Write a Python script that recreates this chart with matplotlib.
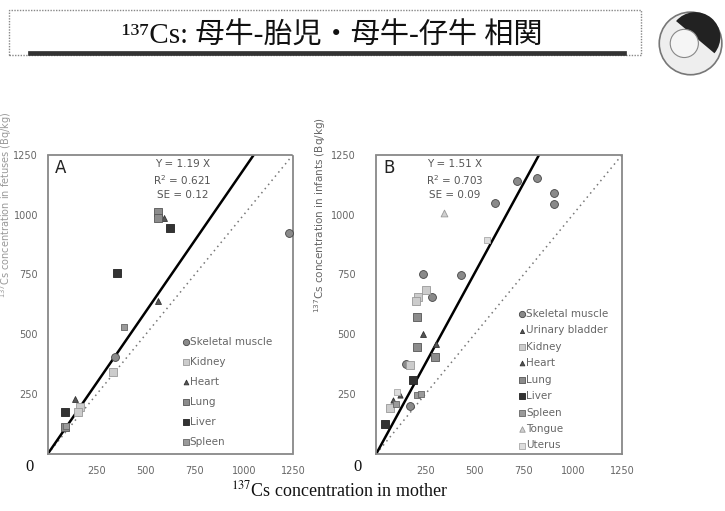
import matplotlib.pyplot as plt
from matplotlib.patches import Rectangle, Circle, Wedge

# Panel A: mother vs fetus
a_organs = ['Skeletal muscle', 'Kidney', 'Heart', 'Lung', 'Liver', 'Spleen']
a_x = {
    'Skeletal muscle': [1230, 345],
    'Kidney': [330, 165, 155],
    'Heart': [560, 140, 590],
    'Lung': [560, 560, 85],
    'Liver': [625, 355, 85],
    'Spleen': [390, 95],
}
a_y = {
    'Skeletal muscle': [925, 405],
    'Kidney': [340, 195, 175],
    'Heart': [640, 230, 985],
    'Lung': [1010, 985, 110],
    'Liver': [945, 755, 175],
    'Spleen': [530, 115],
}
a_slope = 1.19
a_stats = ['Y = 1.19 X', 'R$^2$ = 0.621', 'SE = 0.12']

# Panel B: mother vs infant
b_organs = ['Skeletal muscle', 'Urinary bladder', 'Kidney', 'Heart', 'Lung',
            'Liver', 'Spleen', 'Tongue', 'Uterus']
b_x = {
    'Skeletal muscle': [240, 430, 285, 605, 715, 815, 905, 905, 170, 150],
    'Urinary bladder': [120, 85],
    'Kidney': [255, 210, 200, 170, 70],
    'Heart': [240, 305],
    'Lung': [205, 205, 300],
    'Liver': [185, 45],
    'Spleen': [205, 225, 100],
    'Tongue': [345],
    'Uterus': [565, 105],
}
b_y = {
    'Skeletal muscle': [750, 748, 655, 1050, 1140, 1155, 1090, 1045, 200, 375],
    'Urinary bladder': [245, 225],
    'Kidney': [685, 655, 640, 370, 190],
    'Heart': [500, 460],
    'Lung': [570, 445, 405],
    'Liver': [310, 125],
    'Spleen': [245, 250, 210],
    'Tongue': [1005],
    'Uterus': [895, 260],
}
b_slope = 1.51
b_stats = ['Y = 1.51 X', 'R$^2$ = 0.703', 'SE = 0.09']

ticks = [250, 500, 750, 1000, 1250]

styles = {
    'Skeletal muscle': dict(marker='o', color='#8a8a8a', edge='#444444', s=32),
    'Urinary bladder': dict(marker='^', color='#555555', edge='#333333', s=14),
    'Kidney': dict(marker='s', color='#cccccc', edge='#999999', s=28),
    'Heart': dict(marker='^', color='#555555', edge='#333333', s=18),
    'Lung': dict(marker='s', color='#8c8c8c', edge='#555555', s=30),
    'Liver': dict(marker='s', color='#333333', edge='#222222', s=32),
    'Spleen': dict(marker='s', color='#9a9a9a', edge='#666666', s=24),
    'Tongue': dict(marker='^', color='#d0d0d0', edge='#999999', s=24),
    'Uterus': dict(marker='s', color='#dddddd', edge='#aaaaaa', s=22),
}

plt.rcParams['font.family'] = ['DejaVu Sans']

fig = plt.figure(figsize=(7.25, 5.11), dpi=100)


def draw_panel(ax, organs, xs, ys, slope, stats, letter, ypad, stats_x, leg_anchor, leg_space):
    ax.set_xlim(0, 1250)
    ax.set_ylim(0, 1250)
    ax.plot([0, 1250], [0, 1250], color='#777777', lw=1.1, linestyle=(0, (1, 2.5)), zorder=1)
    ax.plot([0, 1250], [0, 1250 * slope], color='black', lw=1.8, zorder=2)
    for org in organs:
        st = styles[org]
        ax.scatter(xs[org], ys[org], marker=st['marker'], s=st['s'], c=st['color'],
                   edgecolors=st['edge'], linewidths=0.6, label=org, zorder=3)
    for sp in ax.spines.values():
        sp.set_linestyle((0, (1, 1)))
        sp.set_color('#888888')
        sp.set_linewidth(1.3)
    ax.set_xticks(ticks)
    ax.set_yticks(ticks)
    ax.tick_params(length=0, labelsize=7, labelcolor='#666666')
    ax.tick_params(axis='x', pad=9)
    ax.tick_params(axis='y', pad=ypad)
    ax.text(0.03, 0.985, letter, transform=ax.transAxes, fontsize=12,
            va='top', ha='left', color='#222222')
    ax.text(stats_x, 0.985, '\n'.join(stats), transform=ax.transAxes, fontsize=7.5,
            va='top', ha='center', color='#555555', linespacing=1.35)
    ax.text(-0.075, -0.045, '0', transform=ax.transAxes, fontsize=12,
            va='center', ha='center', color='#111111', family='Liberation Serif')
    ax.legend(loc='upper left', bbox_to_anchor=leg_anchor, frameon=False, fontsize=7.5,
              handletextpad=0.0, handlelength=0.8, labelspacing=leg_space,
              borderaxespad=0, borderpad=0, labelcolor='#666666', markerscale=0.8)


ax_a = fig.add_axes([0.066, 0.112, 0.338, 0.585])
draw_panel(ax_a, a_organs, a_x, a_y, a_slope, a_stats, 'A', 7, 0.55,
           (0.545, 0.39), 0.95)
ax_b = fig.add_axes([0.519, 0.112, 0.339, 0.585])
draw_panel(ax_b, b_organs, b_x, b_y, b_slope, b_stats, 'B', 15, 0.32,
           (0.575, 0.485), 0.62)

fig.text(0.441, 0.58, '$^{137}$Cs concentration in infants (Bq/kg)', rotation=90,
         fontsize=7.5, color='#666666', ha='center', va='center')
fig.text(0.009, 0.6, '$^{137}$Cs concentration in fetuses (Bq/kg)', rotation=90,
         fontsize=7, color='#999999', ha='center', va='center')

fig.text(0.468, 0.04, '$^{137}$Cs concentration in mother', fontsize=13,
         family='Liberation Serif', ha='center', va='center', color='#111111',
         math_fontfamily='stix')

# title box
fig.patches.append(Rectangle((0.012, 0.893), 0.872, 0.087, transform=fig.transFigure,
                             fill=False, edgecolor='#888888', lw=1.0, linestyle=(0, (1, 1))))
fig.patches.append(Rectangle((0.038, 0.893), 0.825, 0.007, transform=fig.transFigure,
                             facecolor='#333333', edgecolor='#333333', lw=0.5))
fig.text(0.458, 0.930, '¹³⁷Cs: 母牛-胎児・母牛-仔牛 相関', fontsize=21,
         family=['Liberation Serif', 'Noto Sans CJK JP', 'DejaVu Serif'], ha='center',
         va='center', color='#111111')

# small logo on the right
logo_ax = fig.add_axes([0.905, 0.845, 0.095, 0.14])
logo_ax.set_xlim(-1.1, 1.1)
logo_ax.set_ylim(-1.1, 1.1)
logo_ax.set_aspect('equal')
logo_ax.axis('off')
logo_ax.add_patch(Circle((0, 0), 1.0, facecolor='#eeeeee', edgecolor='#777777', lw=1.2))
logo_ax.add_patch(Wedge((0.15, 0.2), 0.8, -40, 140, facecolor='#222222', edgecolor='none'))
logo_ax.add_patch(Circle((-0.2, 0.0), 0.45, facecolor='#f5f5f5', edgecolor='#888888', lw=0.8))

fig.savefig('out.png', dpi=100)
